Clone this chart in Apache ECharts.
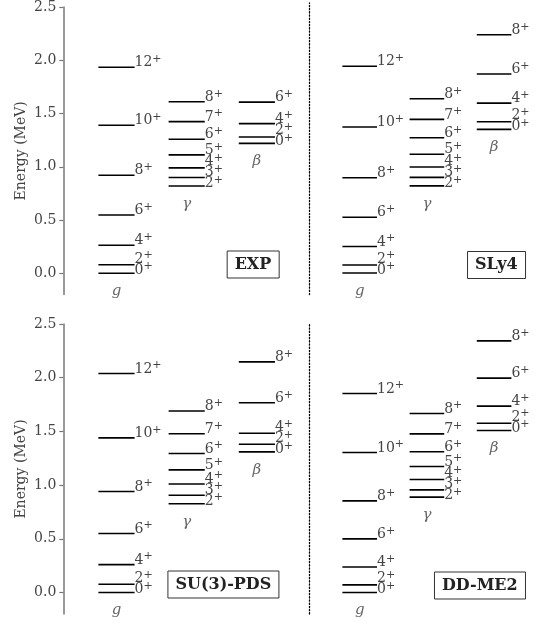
<!DOCTYPE html>
<html><head><meta charset="utf-8">
<script src="https://cdn.jsdelivr.net/npm/echarts@6/dist/echarts.min.js"></script>
<style>html,body{margin:0;padding:0;background:#fff}#c{width:544px;height:623px}</style>
</head><body><div id="c"></div>
<script>
// ---- data ----
const bandNames = ['g', 'γ', 'β'];
const panelNames = ['EXP', 'SLy4', 'SU(3)-PDS', 'DD-ME2'];
const gSpins = [0, 2, 4, 6, 8, 10, 12];
const gammaSpins = [2, 3, 4, 5, 6, 7, 8];
const betaSpinsExp = [0, 2, 4, 6];
const betaSpinsTh = [0, 2, 4, 6, 8];

const expG = [0, 0.080, 0.264, 0.547, 0.92, 1.39, 1.935];
const expGamma = [0.82, 0.90, 0.99, 1.112, 1.258, 1.424, 1.61];
const expBeta = [1.22, 1.28, 1.405, 1.607];

const sly4G = [0, 0.074, 0.246, 0.516, 0.882, 1.352, 1.914];
const sly4Gamma = [0.807, 0.885, 0.982, 1.10, 1.252, 1.422, 1.613];
const sly4Beta = [1.33, 1.40, 1.573, 1.843, 2.206];

const pdsG = [0, 0.077, 0.26, 0.549, 0.94, 1.44, 2.039];
const pdsGamma = [0.826, 0.905, 1.01, 1.142, 1.295, 1.478, 1.69];
const pdsBeta = [1.309, 1.381, 1.483, 1.767, 2.147];

const ddme2G = [0, 0.071, 0.238, 0.499, 0.853, 1.303, 1.853];
const ddme2Gamma = [0.888, 0.956, 1.052, 1.173, 1.31, 1.477, 1.667];
const ddme2Beta = [1.508, 1.576, 1.735, 1.996, 2.343];

const yTicks = [0, 0.5, 1.0, 1.5, 2.0, 2.5];
const yName = 'Energy (MeV)';

// ---- build ----
const panels = [
  {name: panelNames[0], bands: [[expG, gSpins], [expGamma, gammaSpins], [expBeta, betaSpinsExp]]},
  {name: panelNames[1], bands: [[sly4G, gSpins], [sly4Gamma, gammaSpins], [sly4Beta, betaSpinsTh]]},
  {name: panelNames[2], bands: [[pdsG, gSpins], [pdsGamma, gammaSpins], [pdsBeta, betaSpinsTh]]},
  {name: panelNames[3], bands: [[ddme2G, gSpins], [ddme2Gamma, gammaSpins], [ddme2Beta, betaSpinsTh]]}
];

const FONT = 'DejaVu Serif';
const LINE_LEN = 1.03;
const LABEL_SHIFT = -4.5;
const MIN_SEP = 11;
const LABEL_COLOR = '#444';

function repel(ys, d) {
  const c = ys.slice();
  for (let it = 0; it < 200; it++) {
    let moved = false;
    for (let k = 0; k < c.length - 1; k++) {
      const gap = c[k] - c[k + 1];
      if (gap < d - 1e-6) {
        const s = (d - gap) / 2;
        c[k] += s; c[k + 1] -= s; moved = true;
      }
    }
    if (!moved) break;
  }
  return c;
}

function makeRender(energies, spins, bandIdx) {
  return function (params, api) {
    const i = params.dataIndex;
    const x0 = api.value(0);
    const e = api.value(1);
    const a = api.coord([x0, e]);
    const b = api.coord([x0 + LINE_LEN, e]);
    const ys = energies.map(v => api.coord([x0, v])[1] + LABEL_SHIFT);
    const centers = repel(ys, MIN_SEP);
    const children = [
      {type: 'line', shape: {x1: a[0], y1: a[1], x2: b[0], y2: b[1]},
       style: {stroke: '#000', lineWidth: 1.6}},
      {type: 'text', x: b[0], y: centers[i],
       style: {
         text: '{a|' + spins[i] + '}{b|+}',
         align: 'left', verticalAlign: 'middle',
         fontFamily: FONT, fontSize: 14, fill: LABEL_COLOR,
         rich: {
           a: {fontFamily: FONT, fontSize: 14, fill: LABEL_COLOR, lineHeight: 18},
           b: {fontFamily: FONT, fontSize: 11, fill: LABEL_COLOR, lineHeight: 11, verticalAlign: 'top'}
         }
       }}
    ];
    if (i === 0) {
      children.push({type: 'text', x: (a[0] + b[0]) / 2, y: a[1] + 18,
        style: {text: bandNames[bandIdx], align: 'center', verticalAlign: 'middle',
          fontFamily: FONT, fontStyle: 'italic', fontSize: 15, fill: '#666'}});
    }
    return {type: 'group', children};
  };
}

const gridPos = [
  {left: 63.3, top: 3, width: 245.7, height: 291.6},
  {left: 308.8, top: 3, width: 245.7, height: 291.6},
  {left: 63.3, top: 324, width: 245.7, height: 290},
  {left: 308.8, top: 324, width: 245.7, height: 290}
];
const boxPos = [
  {right: 264.7, top: 250.5},
  {right: 18.3, top: 251},
  {right: 264.7, top: 570.5},
  {right: 18.3, top: 571.5}
];

const grid = [], xAxis = [], yAxis = [], series = [], title = [];
panels.forEach((p, pi) => {
  grid.push(Object.assign({containLabel: false}, gridPos[pi]));
  xAxis.push({type: 'value', gridIndex: pi, min: 0, max: 7, show: false});
  const leftSide = pi % 2 === 0;
  yAxis.push({
    type: 'value', gridIndex: pi, min: -0.2, max: 2.5,
    name: leftSide ? yName : '', nameLocation: 'middle', nameGap: 35,
    nameTextStyle: {fontFamily: FONT, fontSize: 14, color: '#444'},
    axisLine: leftSide
      ? {show: true, lineStyle: {color: '#777', width: 1.5}}
      : {show: true, lineStyle: {color: '#000', width: 1.3, type: [1.3, 1.9]}},
    axisTick: {show: leftSide, customValues: yTicks, length: 4, lineStyle: {color: '#777', width: 1.2}},
    axisLabel: {show: leftSide, customValues: yTicks, margin: 7,
      formatter: v => v.toFixed(1), fontFamily: FONT, fontSize: 14, color: '#444'},
    splitLine: {show: false}
  });
  p.bands.forEach((band, bi) => {
    const [energies, spins] = band;
    series.push({
      type: 'custom', xAxisIndex: pi, yAxisIndex: pi, silent: true,
      renderItem: makeRender(energies, spins, bi),
      encode: {x: 0, y: 1},
      data: energies.map((v, k) => [1 + 2 * bi, v, spins[k]])
    });
  });
  title.push(Object.assign({
    text: p.name, padding: [6, 8], borderColor: '#333', borderWidth: 1,
    textStyle: {fontFamily: FONT, fontWeight: 'bold', fontSize: 16, color: '#222'}
  }, boxPos[pi]));
});

const chart = echarts.init(document.getElementById('c'), null, {renderer: 'canvas'});
chart.setOption({animation: false, backgroundColor: '#fff', title, grid, xAxis, yAxis, series});
</script>
</body></html>
